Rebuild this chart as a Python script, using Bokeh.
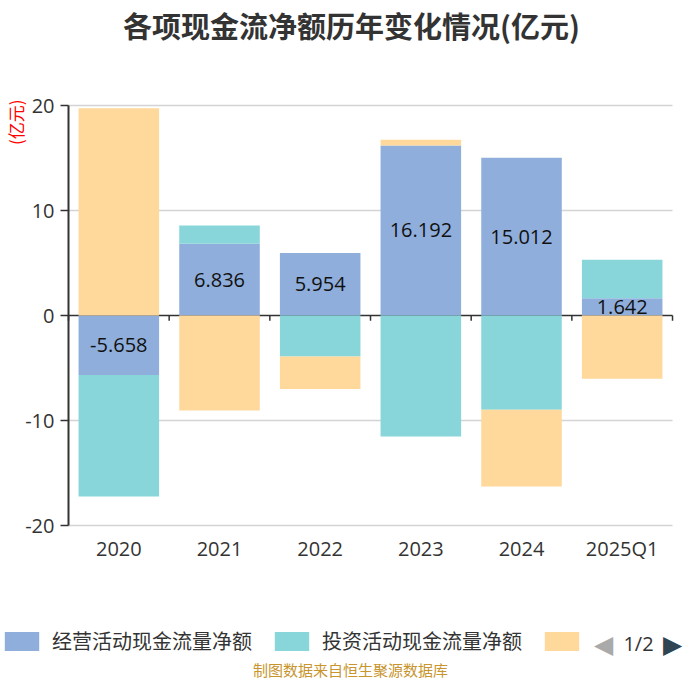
import math
from bokeh.plotting import figure
from bokeh.models import Range1d, Legend, LegendItem, Label, FixedTicker
from bokeh.embed import file_html
from bokeh.resources import INLINE
from bokeh.core.properties import value

# ---- data ----
categories = ["2020", "2021", "2022", "2023", "2024", "2025Q1"]
operating = [-5.658, 6.836, 5.954, 16.192, 15.012, 1.642]
investing = [-11.58, 1.74, -3.90, -11.52, -8.98, 3.66]
financing = [19.75, -9.05, -3.10, 0.55, -7.30, -6.03]
series_names = ["经营活动现金流量净额", "投资活动现金流量净额", "筹资活动现金流量净额"]
y_ticks = [-20, -10, 0, 10, 20]
title_text = "各项现金流净额历年变化情况(亿元)"
unit_text = "(亿元)"
source_text = "制图数据来自恒生聚源数据库"
pager_text = "1/2"

colors = ["#8FAEDB", "#88D6DA", "#FED99B"]
CJK = "Noto Sans CJK SC"
NUM = "Open Sans"
W = H = 684

n = len(categories)
xs = [i + 0.5 for i in range(n)]          # category centres
bounds = list(range(n + 1))               # category boundaries

# stacking (positive and negative stacks separately)
pos = [0.0] * n
neg = [0.0] * n
stacks = []
for vals in (operating, investing, financing):
    b, t = [], []
    for i, v in enumerate(vals):
        if v >= 0:
            b.append(pos[i]); t.append(pos[i] + v); pos[i] += v
        else:
            b.append(neg[i]); t.append(neg[i] + v); neg[i] += v
    stacks.append((b, t))

# scales: 100.67 px per category, 10.5 px per unit; frame fills the canvas
px_x, px_y = 100.67, 10.5
x0_px, y20_px = 68, 105
x_range = Range1d(-x0_px / px_x, (W - x0_px) / px_x)
y_range = Range1d(20 - (H - y20_px) / px_y, 20 + y20_px / px_y)

p = figure(x_range=x_range, y_range=y_range, width=W, height=H,
           min_border=0, output_backend="svg", toolbar_location=None)
p.outline_line_color = None
p.background_fill_color = "white"
p.border_fill_color = "white"
p.xgrid.grid_line_color = None
p.ygrid.grid_line_color = None

# y axis fixed at the first category boundary
p.yaxis.fixed_location = 0
p.yaxis.bounds = (y_ticks[0], y_ticks[-1])
p.yaxis.ticker = FixedTicker(ticks=y_ticks)
p.yaxis.major_label_overrides = {v: str(v) for v in y_ticks}
p.yaxis.axis_line_color = "#333333"
p.yaxis.axis_line_width = 2
p.yaxis.major_tick_line_color = "#333333"
p.yaxis.major_tick_line_width = 1.5
p.yaxis.major_tick_out = 8
p.yaxis.major_tick_in = 0
p.yaxis.minor_tick_line_color = None
p.yaxis.major_label_standoff = 6
p.yaxis.major_label_text_font = NUM
p.yaxis.major_label_text_font_size = "20px"
p.yaxis.major_label_text_color = "#333333"

# x axis (category labels) fixed at the bottom of the value range
p.xaxis.fixed_location = y_ticks[0]
p.xaxis.ticker = FixedTicker(ticks=xs)
p.xaxis.major_label_overrides = {x: c for x, c in zip(xs, categories)}
p.xaxis.axis_line_color = None
p.xaxis.major_tick_line_color = None
p.xaxis.minor_tick_line_color = None
p.xaxis.major_label_standoff = 3
p.xaxis.major_label_text_font = NUM
p.xaxis.major_label_text_font_size = "20px"
p.xaxis.major_label_text_color = "#333333"

# horizontal grid lines across the category span
grid_y = [v for v in y_ticks if v != 0]
p.segment(x0=[bounds[0]] * len(grid_y), x1=[bounds[-1]] * len(grid_y), y0=grid_y, y1=grid_y,
          line_color="#d4d4d4", line_width=1.5)

# zero axis line with category boundary ticks
p.segment(x0=[bounds[0]], x1=[bounds[-1]], y0=[0], y1=[0], line_color="#333333", line_width=1.5)
p.segment(x0=bounds, y0=[0] * (n + 1), x1=bounds, y1=[-0.5] * (n + 1),
          line_color="#333333", line_width=1.5)

renderers = []
b, t = stacks[0]
r0 = p.vbar(x=xs, bottom=b, top=t, width=0.8, fill_color=colors[0], line_color=None)
renderers.append(r0)
mid = [(bb + tt) / 2 for bb, tt in zip(b, t)]
p.text(x=xs, y=mid, text=[f"{v:.3f}" for v in operating],
       text_align="center", text_baseline="middle",
       text_font=value(NUM), text_font_size="20px", text_color="#111111")
for k in (1, 2):
    b, t = stacks[k]
    r = p.vbar(x=xs, bottom=b, top=t, width=0.8, fill_color=colors[k], line_color=None)
    renderers.append(r)

# title
p.add_layout(Label(x=351, y=H - 24, x_units="screen", y_units="screen", text=title_text,
                   text_align="center", text_baseline="middle",
                   text_font=CJK, text_font_size="29px", text_font_style="bold",
                   text_color="#333333"))

# unit label
p.add_layout(Label(x=15, y=H - 99, x_units="screen", y_units="screen", text=unit_text,
                   angle=math.pi / 2, text_align="right", text_baseline="middle",
                   text_font=CJK, text_font_size="17px", text_color="#ff0000"))

# legend (third item truncated by the pager as in the original)
legend = Legend(items=[LegendItem(label=series_names[0], renderers=[renderers[0]]),
                       LegendItem(label=series_names[1], renderers=[renderers[1]]),
                       LegendItem(label=" ", renderers=[renderers[2]])],
                orientation="horizontal", location=(0, H - 655),
                glyph_width=43, glyph_height=24, label_standoff=9, spacing=18,
                padding=0, margin=0, border_line_color=None,
                background_fill_alpha=0,
                label_text_font=CJK, label_text_font_size="20px",
                label_text_color="#333333")
p.add_layout(legend)

# pager
py = H - 643
p.add_layout(Label(x=603, y=py, x_units="screen", y_units="screen", text="◀",
                   text_align="center", text_baseline="middle",
                   text_font_size="25px", text_color="#aaaaaa"))
p.add_layout(Label(x=638, y=py, x_units="screen", y_units="screen", text=pager_text,
                   text_align="center", text_baseline="middle", text_font=NUM,
                   text_font_size="20px", text_color="#333333"))
p.add_layout(Label(x=672, y=py, x_units="screen", y_units="screen", text="▶",
                   text_align="center", text_baseline="middle",
                   text_font_size="25px", text_color="#2f4554"))

# source note
p.add_layout(Label(x=350, y=15, x_units="screen", y_units="screen", text=source_text,
                   text_align="center", text_baseline="middle",
                   text_font=CJK, text_font_size="15px", text_color="#c8952e"))

open("out.html", "w").write(file_html(p, INLINE))
